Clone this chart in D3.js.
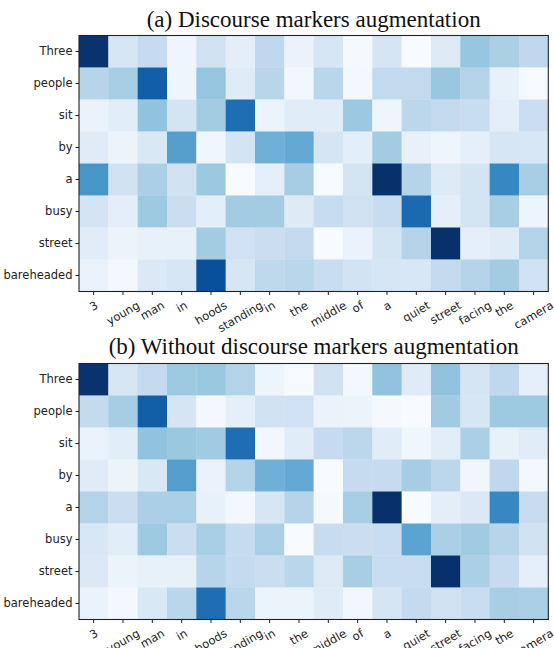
<!DOCTYPE html>
<html>
<head>
<meta charset="utf-8">
<script src="https://cdn.jsdelivr.net/npm/d3@7"></script>
<style>
  html, body { margin: 0; padding: 0; background: #fff; }
  svg { display: block; }
</style>
</head>
<body>
<svg id="chart" width="554" height="648"></svg>
<script>
// ---- data ----
const rowLabels = ["Three", "people", "sit", "by", "a", "busy", "street", "bareheaded"];
const colLabels = ["3", "young", "man", "in", "hoods", "standing", "in", "the", "middle", "of", "a", "quiet", "street", "facing", "the", "camera"];

const titleA = "(a) Discourse markers augmentation";
const titleB = "(b) Without discourse markers augmentation";

// attention weights, panel (a): with discourse markers augmentation
const valuesA = [
  [0.99, 0.167, 0.25, 0.045, 0.198, 0.10, 0.269, 0.065, 0.167, 0.015, 0.172, 0.0, 0.135, 0.392, 0.334, 0.269],
  [0.297, 0.344, 0.82, 0.045, 0.395, 0.12, 0.294, 0.035, 0.29, 0.025, 0.262, 0.262, 0.387, 0.306, 0.08, 0.01],
  [0.065, 0.11, 0.407, 0.182, 0.359, 0.76, 0.055, 0.115, 0.115, 0.38, 0.045, 0.281, 0.26, 0.234, 0.10, 0.224],
  [0.12, 0.06, 0.151, 0.567, 0.04, 0.182, 0.49, 0.524, 0.172, 0.105, 0.359, 0.075, 0.045, 0.095, 0.167, 0.156],
  [0.607, 0.198, 0.334, 0.198, 0.38, 0.0, 0.095, 0.35, 0.01, 0.182, 1.0, 0.303, 0.135, 0.182, 0.667, 0.344],
  [0.177, 0.10, 0.377, 0.229, 0.105, 0.359, 0.359, 0.135, 0.24, 0.198, 0.24, 0.78, 0.095, 0.182, 0.344, 0.05],
  [0.115, 0.06, 0.08, 0.08, 0.359, 0.203, 0.229, 0.26, 0.0, 0.065, 0.182, 0.303, 1.0, 0.095, 0.12, 0.309],
  [0.07, 0.02, 0.141, 0.167, 0.88, 0.167, 0.275, 0.287, 0.234, 0.19, 0.167, 0.156, 0.256, 0.303, 0.359, 0.203]
];

// attention weights, panel (b): without discourse markers augmentation
const valuesB = [
  [0.99, 0.167, 0.256, 0.377, 0.385, 0.312, 0.05, 0.01, 0.198, 0.025, 0.407, 0.12, 0.407, 0.172, 0.269, 0.095],
  [0.256, 0.35, 0.82, 0.172, 0.02, 0.095, 0.198, 0.203, 0.065, 0.06, 0.015, 0.0, 0.369, 0.167, 0.375, 0.375],
  [0.07, 0.11, 0.407, 0.385, 0.369, 0.76, 0.03, 0.115, 0.25, 0.281, 0.115, 0.04, 0.11, 0.334, 0.08, 0.115],
  [0.12, 0.055, 0.151, 0.573, 0.07, 0.309, 0.49, 0.524, 0.0, 0.25, 0.25, 0.35, 0.281, 0.04, 0.269, 0.025],
  [0.306, 0.229, 0.334, 0.334, 0.08, 0.02, 0.167, 0.303, 0.015, 0.344, 1.0, 0.0, 0.10, 0.141, 0.667, 0.24],
  [0.156, 0.11, 0.377, 0.229, 0.34, 0.253, 0.334, 0.0, 0.24, 0.229, 0.234, 0.549, 0.334, 0.369, 0.297, 0.198],
  [0.141, 0.06, 0.08, 0.08, 0.297, 0.256, 0.229, 0.29, 0.135, 0.344, 0.234, 0.234, 1.0, 0.334, 0.25, 0.095],
  [0.065, 0.02, 0.151, 0.29, 0.76, 0.287, 0.06, 0.06, 0.12, 0.03, 0.172, 0.256, 0.198, 0.234, 0.344, 0.334]
];

// ---- drawing ----
const svg = d3.select("#chart");
const blues = d3.schemeBlues[9];
const color = d3.scaleLinear()
  .domain(d3.range(9).map(i => i / 8))
  .range(blues)
  .interpolate(d3.interpolateRgb)
  .clamp(true);

const left = 79, right = 548.3;
const x = d3.scaleBand().domain(d3.range(colLabels.length)).range([left, right]).paddingInner(0).paddingOuter(0);

const rotDeg = 30;
const rot = rotDeg * Math.PI / 180;

function panel(values, title, top, bottom, titleY) {
  const g = svg.append("g");
  const y = d3.scaleBand().domain(d3.range(rowLabels.length)).range([top, bottom]);

  const cells = [];
  values.forEach((row, r) => row.forEach((v, c) => cells.push({ r, c, v })));

  g.append("g").selectAll("rect").data(cells).join("rect")
    .attr("x", d => x(d.c))
    .attr("y", d => y(d.r))
    .attr("width", x.bandwidth() + 0.3)
    .attr("height", y.bandwidth() + 0.3)
    .attr("fill", d => color(d.v));

  // frame
  g.append("rect")
    .attr("x", left).attr("y", top)
    .attr("width", right - left).attr("height", bottom - top)
    .attr("fill", "none").attr("stroke", "#222").attr("stroke-width", 1.1);

  // left axis
  const yAxis = d3.axisLeft(y).tickSize(3.5).tickPadding(3).tickFormat(i => rowLabels[i]);
  const ya = g.append("g").attr("transform", `translate(${left},0)`).call(yAxis);
  ya.select(".domain").remove();
  ya.selectAll("line").attr("stroke", "#222");
  ya.selectAll("text")
    .attr("font-family", "DejaVu Sans, sans-serif")
    .attr("font-size", 11.5)
    .attr("fill", "#222");

  // bottom axis
  const xAxis = d3.axisBottom(x).tickSize(3.5).tickFormat(i => colLabels[i]);
  const xa = g.append("g").attr("transform", `translate(0,${bottom})`).call(xAxis);
  xa.select(".domain").remove();
  xa.selectAll("line").attr("stroke", "#222");
  xa.selectAll("text")
    .attr("font-family", "DejaVu Sans, sans-serif")
    .attr("font-size", 11.5)
    .attr("fill", "#222")
    .attr("dy", null)
    .attr("y", null)
    .attr("text-anchor", "middle")
    .attr("dominant-baseline", "central")
    .each(function () {
      const w = this.getComputedTextLength();
      const h = 13;
      const half = (w * Math.sin(rot) + h * Math.cos(rot)) / 2;
      d3.select(this).attr("transform", `translate(0,${3.5 + 3.5 + half}) rotate(${-rotDeg})`);
    });

  g.append("text")
    .attr("x", (left + right) / 2)
    .attr("y", titleY)
    .attr("text-anchor", "middle")
    .attr("font-family", "Liberation Serif, Times New Roman, serif")
    .attr("font-size", 23)
    .attr("fill", "#111")
    .text(title);
}

panel(valuesA, titleA, 35.5, 291.5, 27);
panel(valuesB, titleB, 363.5, 619.5, 354);
</script>
</body>
</html>
